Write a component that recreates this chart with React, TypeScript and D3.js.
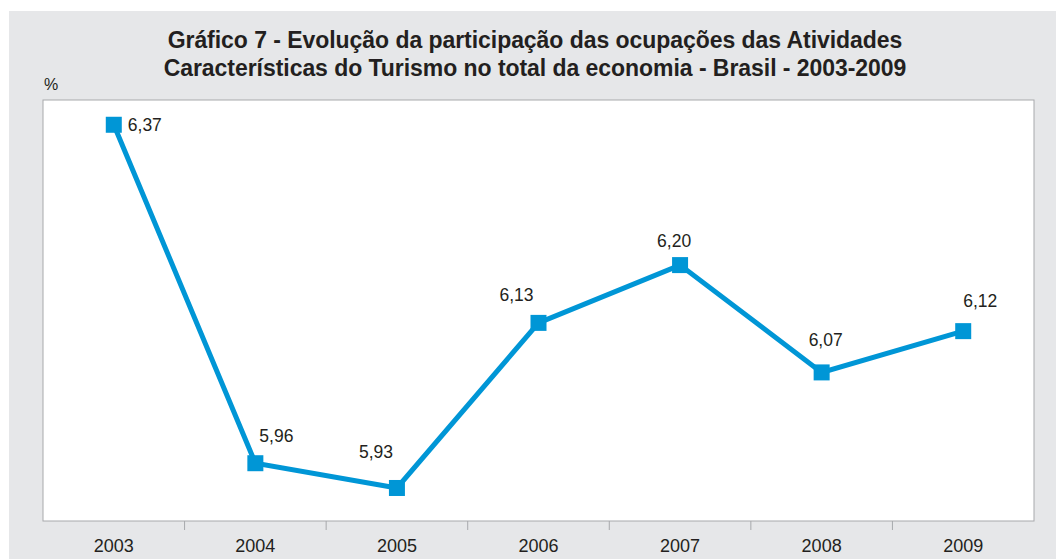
import { line, scaleBand, scaleLinear } from "d3";

const years = ["2003", "2004", "2005", "2006", "2007", "2008", "2009"];
const shares = [6.37, 5.96, 5.93, 6.13, 6.2, 6.07, 6.12];
const titleLines = [
  "Gráfico 7 - Evolução da participação das ocupações das Atividades",
  "Características do Turismo no total da economia - Brasil - 2003-2009"
];

const width = 1056;
const height = 559;
const plot = { left: 43, top: 100, right: 1034, bottom: 521 };
const blue = "#0096d6";
const font = "'Liberation Sans', Arial, sans-serif";

// hand-placed label offsets (dx of text start, dy of baseline) so labels dodge the line
const labelOffsets: [number, number][] = [
  [14, 6],
  [4, -21],
  [-38, -30],
  [-39, -22],
  [-23, -18],
  [-13, -26],
  [0, -24]
];

export default function App(): React.JSX.Element {
  const x = scaleBand<string>().domain(years).range([plot.left, plot.right]);
  const y = scaleLinear().domain([5.89, 6.4]).range([plot.bottom, plot.top]);
  const cx = (year: string) => (x(year) ?? 0) + x.bandwidth() / 2;
  const points = years.map((year, i) => [cx(year), y(shares[i])] as [number, number]);
  const path = line()(points) ?? "";
  const tickXs = years.slice(1).map((year) => x(year) ?? 0);

  return (
    <svg
      width={width}
      height={height}
      style={{ position: "absolute", left: 0, top: 0, display: "block" }}
      fontFamily={font}
    >
      <rect x={0} y={0} width={width} height={height} fill="#ffffff" />
      <rect x={9} y={11} width={width - 9} height={height - 11} fill="#e6e7e9" />
      {titleLines.map((t, i) => (
        <text
          key={i}
          x={535}
          y={48 + i * 28}
          textAnchor="middle"
          fontSize={23}
          fontWeight="bold"
          fill="#231f20"
          letterSpacing={-0.05}
        >
          {t}
        </text>
      ))}
      <text x={44} y={90} fontSize={16} fill="#231f20">
        %
      </text>
      <rect
        x={plot.left}
        y={plot.top}
        width={plot.right - plot.left}
        height={plot.bottom - plot.top}
        fill="#ffffff"
        stroke="#a7a9ac"
        strokeWidth={1}
      />
      {tickXs.map((tx, i) => (
        <line key={i} x1={tx} x2={tx} y1={plot.bottom} y2={plot.bottom + 9} stroke="#a7a9ac" />
      ))}
      {years.map((year) => (
        <text key={year} x={cx(year)} y={552} textAnchor="middle" fontSize={18} fill="#231f20">
          {year}
        </text>
      ))}
      <path d={path} fill="none" stroke={blue} strokeWidth={5} strokeLinejoin="miter" />
      {points.map(([px, py], i) => (
        <rect key={i} x={px - 8} y={py - 8} width={16} height={16} fill={blue} />
      ))}
      {points.map(([px, py], i) => (
        <text
          key={i}
          x={px + labelOffsets[i][0]}
          y={py + labelOffsets[i][1]}
          fontSize={17.5}
          fill="#231f20"
        >
          {shares[i].toFixed(2).replace(".", ",")}
        </text>
      ))}
    </svg>
  );
}
